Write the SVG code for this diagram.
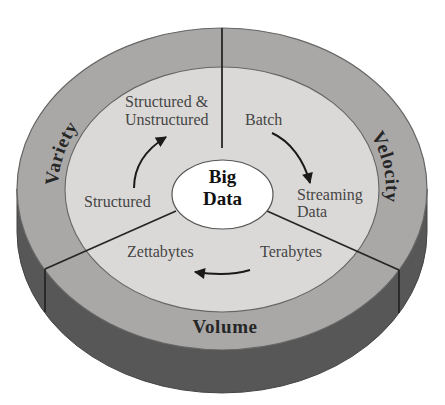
<svg xmlns="http://www.w3.org/2000/svg" width="445" height="405" viewBox="0 0 445 405">
  <style>
    .lbl { font-family: "Liberation Serif", "Times New Roman", serif; font-size: 16px; fill: #454545; }
    .ring { font-family: "Liberation Serif", "Times New Roman", serif; font-size: 19px; font-weight: bold; fill: #262626; letter-spacing: 0.6px; }
    .big { font-family: "Liberation Serif", "Times New Roman", serif; font-size: 19px; font-weight: bold; fill: #111; text-anchor: middle; }
    .div { stroke: #262626; stroke-width: 1.8; fill: none; }
    .arr { stroke: #1a1a1a; stroke-width: 2; fill: none; marker-end: url(#ah); }
  </style>
  <defs>
    <marker id="ah" viewBox="0 0 10 10" refX="9" refY="5" markerWidth="12" markerHeight="11" markerUnits="userSpaceOnUse" orient="auto">
      <path d="M0,0 L10,5 L0,10 z" fill="#1a1a1a"/>
    </marker>
    <path id="pVariety" d="M74.6,245.6 A164,129 0 0 1 125.6,84.6"/>
    <path id="pVelocity" d="M330.4,92.3 A164,129 0 0 1 362,256.2"/>
  </defs>
  <rect width="445" height="405" fill="#ffffff"/>

  <g id="cylinder">
    <path d="M17,189 L17,232 A205,161 0 0 0 427,232 L427,189 A205,161 0 0 1 17,189 Z" fill="#575757" stroke="#444" stroke-width="1"/>
    <ellipse cx="222" cy="189" rx="205" ry="161" fill="#a9a8a7" stroke="#666" stroke-width="1.2"/>
    <ellipse cx="222" cy="189.5" rx="157" ry="122.5" fill="#dbd9d7" stroke="#666" stroke-width="1.1"/>
  </g>

  <g id="dividers">
    <line class="div" x1="222" y1="28" x2="222" y2="148"/>
    <line class="div" x1="176" y1="211" x2="45" y2="269"/>
    <line class="div" x1="45" y1="269" x2="45" y2="312"/>
    <line class="div" x1="267" y1="211" x2="399" y2="270"/>
    <line class="div" x1="399" y1="270" x2="399" y2="313"/>
  </g>

  <g id="variety">
    <text class="ring"><textPath href="#pVariety" startOffset="50%" text-anchor="middle">Variety</textPath></text>
    <text class="lbl" x="125" y="107">Structured &amp;</text>
    <text class="lbl" x="125" y="125">Unstructured</text>
    <text class="lbl" x="84" y="207">Structured</text>
  </g>

  <g id="velocity">
    <text class="ring"><textPath href="#pVelocity" startOffset="50%" text-anchor="middle">Velocity</textPath></text>
    <text class="lbl" x="245" y="125">Batch</text>
    <text class="lbl" x="297" y="200">Streaming</text>
    <text class="lbl" x="297" y="217">Data</text>
  </g>

  <g id="volume">
    <text class="ring" x="225" y="333" text-anchor="middle">Volume</text>
    <text class="lbl" x="127" y="257">Zettabytes</text>
    <text class="lbl" x="260" y="257">Terabytes</text>
  </g>

  <g id="big-data">
    <ellipse cx="222.5" cy="194.5" rx="50.5" ry="34.5" fill="#ffffff" stroke="#555" stroke-width="1.2"/>
    <text class="big" x="222.5" y="183">Big</text>
    <text class="big" x="222.5" y="205">Data</text>
  </g>

  <g id="connectors">
    <path class="arr" d="M134,188 C134,167 145,150 166,137"/>
    <path class="arr" d="M272,133 C290,141 304,160 310,183"/>
    <path class="arr" d="M250,270 Q228,277 195,272"/>
  </g>
</svg>
